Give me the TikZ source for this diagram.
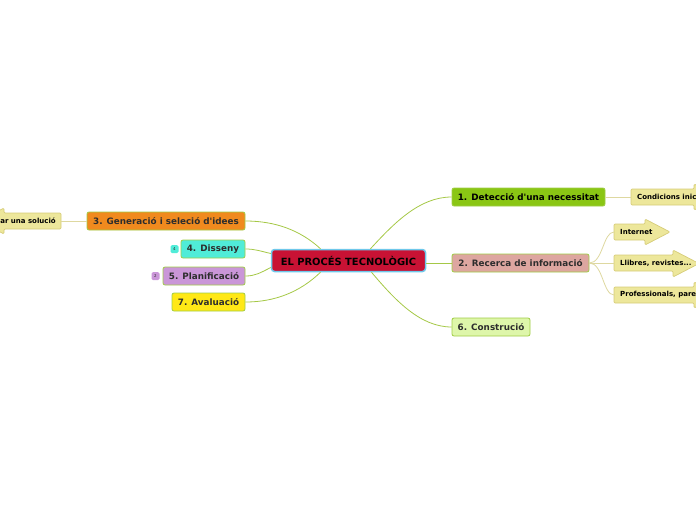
\documentclass[tikz,border=0pt]{standalone}
\usepackage{fontspec}
\setmainfont{DejaVu Sans}
\usetikzlibrary{calc}
\definecolor{cfill}{RGB}{200,18,52}
\definecolor{cborder}{RGB}{110,200,235}
\definecolor{gfill}{RGB}{138,198,20}
\definecolor{pfill}{RGB}{221,166,160}
\definecolor{lgfill}{RGB}{222,246,170}
\definecolor{ofill}{RGB}{240,138,30}
\definecolor{tfill}{RGB}{80,236,216}
\definecolor{vfill}{RGB}{202,150,216}
\definecolor{yfill}{RGB}{255,232,22}
\definecolor{kfill}{RGB}{237,231,155}
\definecolor{kborder}{RGB}{214,204,120}
\definecolor{nborder}{RGB}{160,205,70}
\definecolor{edgegreen}{RGB}{165,200,70}
\definecolor{edgekhaki}{RGB}{222,216,160}
\definecolor{txt}{RGB}{45,45,45}
\tikzset{
  topic/.style={draw=nborder, line width=0.8pt, rounded corners=2pt, minimum height=18pt,
    inner sep=0pt, text=txt, font=\bfseries\fontsize{8.8}{10}\selectfont},
  central/.style={draw=cborder, line width=1.5pt, fill=cfill, rounded corners=3pt,
    minimum height=22pt, minimum width=154pt, inner sep=0pt, text=black,
    font=\bfseries\fontsize{9.9}{11}\selectfont},
  kshape/.style={draw=kborder, fill=kfill, line width=0.7pt, rounded corners=1.2pt},
  ktext/.style={inner xsep=6pt, inner ysep=0pt, minimum height=16pt, text=black,
    font=\bfseries\fontsize{7}{8}\selectfont},
  badge/.style={rounded corners=1.5pt, minimum size=8pt, inner sep=0pt,
    text=txt, font=\fontsize{4}{4}\selectfont},
  link/.style={draw=edgegreen, line width=0.8pt},
  klink/.style={draw=edgekhaki, line width=0.8pt}
}
\begin{document}
\begin{tikzpicture}[x=1pt,y=-1pt]
\useasboundingbox (0,0) rectangle (696,520);
\clip (0,0) rectangle (696,520);

% khaki arrow shapes
\path[kshape] (631,189) -- (694,189) -- (694,184) -- (720,197) -- (694,210) -- (694,205) -- (631,205) -- cycle;
\path[kshape] (614,224) -- (645,224) -- (645,219) -- (670,232) -- (645,245) -- (645,240) -- (614,240) -- cycle;
\path[kshape] (614,255) -- (673,255) -- (673,250) -- (699,263.5) -- (673,277) -- (673,271) -- (614,271) -- cycle;
\path[kshape] (614,287) -- (694,287) -- (694,282) -- (720,295) -- (694,308) -- (694,303) -- (614,303) -- cycle;
\path[kshape] (61,213) -- (4,213) -- (4,208) -- (-21,221) -- (4,234) -- (4,229) -- (61,229) -- cycle;

% central
\node[central] (c) at (348.5,260.5) {EL PROCÉS TECNOLÒGIC};

% topics
\node[topic, fill=gfill, text=black, minimum width=153pt] (n1) at (528.5,197) {1. Detecció d\textquotesingle una necessitat};
\node[topic, fill=pfill, minimum width=137pt] (n2) at (520.5,263) {2. Recerca de informació};
\node[topic, fill=lgfill, minimum width=78pt] (n6) at (491,327) {6. Construció};
\node[topic, fill=ofill, minimum width=158pt] (n3) at (166,221) {3. Generació i seleció d\textquotesingle idees};
\node[topic, fill=tfill, minimum width=64pt] (n4) at (213,249) {4. Disseny};
\node[topic, fill=vfill, minimum width=82pt] (n5) at (204,276) {5. Planificació};
\node[topic, fill=yfill, minimum width=73pt] (n7) at (208.5,302) {7. Avaluació};

% badges
\node[badge, fill=tfill] (b4) at (174.5,249) {4};
\node[badge, fill=vfill] (b5) at (155.5,276) {2};

% khaki texts
\node[ktext, anchor=west, inner xsep=6pt] (k1) at (631,197) {Condicions inic};
\node[ktext, anchor=west] (k2) at (614,232) {Internet};
\node[ktext, anchor=west] (k3) at (614,263) {Llibres, revistes...};
\node[ktext, anchor=west] (k4) at (614,295) {Professionals, pare};
\node[ktext, anchor=east, inner xsep=5pt] (k5) at (61,221) {ar una solució};

% connectors
\draw[link] ($(c.north)+(22,0)$) .. controls (395,222) and (420,197) .. (n1.west);
\draw[link] ($(c.east)+(0,2.5)$) -- (n2.west);
\draw[link] ($(c.south)+(23,0)$) .. controls (395,300) and (420,327) .. (n6.west);
\draw[link] ($(c.north)+(-28,0)$) .. controls (300,230) and (275,221) .. (n3.east);
\draw[link] ($(c.west)+(0,-7)$) .. controls (260,251) and (255,249) .. (n4.east);
\draw[link] ($(c.west)+(0,7)$) .. controls (260,273) and (255,276) .. (n5.east);
\draw[link] ($(c.south)+(-28,0)$) .. controls (300,292) and (275,302) .. (n7.east);

\draw[klink] (n1.east) -- (k1.west);
\draw[klink] (n2.east) .. controls (603,263) and (603,232) .. (k2.west);
\draw[klink] (n2.east) -- (k3.west);
\draw[klink] (n2.east) .. controls (603,263) and (603,295) .. (k4.west);
\draw[klink] (n3.west) -- (k5.east);
\end{tikzpicture}
\end{document}
